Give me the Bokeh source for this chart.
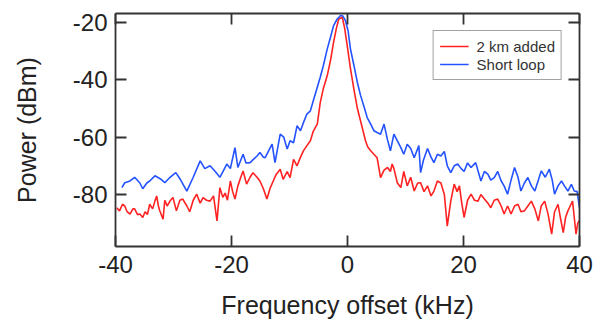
from bokeh.plotting import figure
from bokeh.models import LinearAxis, FixedTicker, Range1d, Legend, LegendItem
from bokeh.embed import file_html
from bokeh.resources import INLINE

# ---- data ----
blue_khz = [-38.9, -38.4, -37.5, -36.7, -35.8, -35.3, -34.6, -34.1, -33.2, -32.3, -31.5, -30.6,
            -29.6, -28.9, -27.7, -26.6, -25.4, -24.6, -23.7, -22.8, -22.0, -20.8, -20.2, -19.4,
            -18.9, -18.0, -17.5, -16.8, -15.6, -15.1, -14.5, -14.2, -13.0, -12.5, -11.6, -11.0,
            -10.4, -9.9, -9.3, -8.7, -8.1, -7.6, -7.0, -6.4, -5.9, -5.4, -4.7, -4.15, -3.5, -2.9,
            -2.4, -1.8, -1.2, -0.8, -0.35, 0.1, 0.5, 1.1, 1.7, 2.25, 2.8, 3.4, 4.0, 4.55, 5.1,
            5.7, 6.3, 6.9, 7.4, 8.0, 8.6, 9.2, 9.7, 10.3, 10.9, 11.5, 12.3, 12.6, 13.1, 13.8,
            14.4, 14.9, 15.5, 16.1, 16.7, 17.2, 17.8, 18.4, 19.0, 19.6, 20.1, 20.7, 21.3, 22.1,
            23.0, 23.6, 24.2, 24.7, 25.3, 25.9, 26.5, 27.0, 27.6, 28.2, 28.8, 29.4, 29.9, 30.5,
            31.1, 31.7, 32.3, 32.9, 33.4, 34.1, 34.8, 35.3, 35.7, 36.3, 36.9, 37.4, 38.0, 38.6,
            39.1, 39.6, 40.0]
blue_dbm = [-77.6, -75.9, -75.3, -74.0, -76.0, -78.0, -76.0, -75.3, -73.5, -74.5, -75.9, -74.0,
            -72.4, -74.5, -78.8, -74.0, -68.3, -71.0, -70.0, -72.0, -74.0, -69.4, -71.0, -63.7,
            -70.6, -66.0, -69.0, -68.9, -66.6, -65.4, -67.0, -67.2, -62.5, -68.9, -59.0, -60.0,
            -64.2, -61.3, -62.0, -56.1, -57.8, -55.0, -52.0, -50.9, -47.4, -44.0, -39.2, -35.0,
            -29.4, -25.0, -21.2, -19.0, -17.7, -17.9, -19.5, -23.0, -29.2, -35.0, -41.0, -45.5,
            -49.1, -53.2, -55.5, -57.8, -58.4, -59.0, -55.5, -61.0, -64.8, -59.0, -61.3, -63.7,
            -66.0, -62.5, -64.0, -67.2, -63.0, -72.4, -68.0, -64.0, -67.0, -68.9, -66.0, -66.6,
            -65.0, -70.0, -72.4, -70.0, -69.4, -71.0, -72.0, -69.0, -70.6, -68.9, -75.3, -72.0,
            -72.9, -75.0, -74.1, -72.0, -75.3, -77.0, -79.9, -75.0, -70.6, -74.0, -78.8, -76.0,
            -74.1, -77.0, -78.8, -75.0, -71.8, -74.0, -71.2, -75.0, -79.9, -77.0, -75.3, -77.0,
            -78.8, -76.5, -78.8, -79.0, -84.6]

red_khz = [-39.8, -39.3, -38.8, -38.4, -38.0, -37.5, -37.0, -36.7, -36.2, -35.8, -35.3, -34.9,
           -34.5, -34.1, -33.6, -33.2, -32.9, -32.6, -32.4, -31.8, -31.5, -31.1, -30.6, -30.1,
           -29.5, -28.9, -28.4, -27.7, -27.2, -26.6, -26.0, -25.4, -24.9, -24.3, -23.7, -23.1,
           -22.5, -22.0, -21.5, -21.1, -20.7, -20.2, -19.8, -19.4, -18.9, -18.4, -18.0, -17.4,
           -16.8, -16.3, -15.6, -15.1, -14.5, -13.9, -13.3, -12.8, -12.3, -11.6, -11.1, -10.4,
           -9.9, -9.3, -8.7, -8.1, -7.6, -7.0, -6.4, -5.9, -5.2, -4.7, -4.15, -3.5, -2.9, -2.4,
           -1.9, -1.5, -0.9, -0.5, -0.05, 0.5, 1.1, 1.7, 2.25, 2.7, 3.1, 3.5, 4.0, 4.55, 5.1,
           5.7, 6.3, 6.9, 7.4, 7.7, 8.0, 8.6, 9.2, 9.7, 10.3, 10.9, 11.5, 12.1, 12.6, 13.2, 13.8,
           14.4, 14.9, 15.5, 16.1, 16.7, 17.2, 17.8, 18.4, 18.9, 19.3, 19.7, 20.1, 20.7, 21.3,
           21.9, 22.5, 23.0, 23.6, 24.2, 24.7, 25.3, 25.9, 26.5, 27.0, 27.6, 28.2, 28.8, 29.4,
           29.9, 30.5, 31.1, 31.7, 32.3, 32.9, 33.4, 34.0, 34.6, 35.2, 35.7, 36.3, 36.7, 37.2,
           37.6, 38.0, 38.4, 38.8, 39.1, 39.4, 39.7, 40.0]
red_dbm = [-84.6, -85.7, -83.4, -84.0, -86.0, -86.8, -85.0, -85.0, -87.0, -86.8, -88.0, -86.0,
           -87.0, -83.4, -85.0, -82.3, -80.5, -84.0, -85.5, -88.6, -82.0, -84.0, -82.3, -81.0,
           -85.7, -82.0, -81.6, -84.0, -86.0, -82.0, -79.9, -83.0, -81.1, -82.0, -82.3, -80.5,
           -89.2, -77.6, -81.0, -79.5, -82.0, -75.3, -79.0, -81.6, -77.0, -74.0, -71.8, -76.4,
           -74.0, -72.4, -74.0, -75.3, -78.0, -81.6, -77.6, -75.3, -73.0, -71.2, -74.7, -72.0,
           -74.1, -67.8, -70.0, -67.0, -64.8, -63.0, -61.3, -58.0, -55.4, -48.0, -43.0, -38.7,
           -33.0, -27.0, -22.0, -18.9, -18.3, -22.0, -28.2, -36.0, -43.3, -50.0, -54.4, -58.0,
           -61.3, -63.5, -64.8, -66.0, -67.2, -74.1, -71.5, -70.6, -72.0, -69.4, -71.0, -76.0,
           -77.6, -72.0, -77.0, -74.0, -78.8, -76.0, -75.9, -79.0, -77.0, -80.5, -78.8, -75.3,
           -76.0, -80.0, -91.0, -82.3, -76.4, -79.0, -77.0, -83.0, -88.0, -82.0, -79.9, -82.0,
           -82.3, -80.0, -81.6, -83.0, -84.6, -82.0, -81.6, -84.0, -86.8, -84.0, -86.8, -84.0,
           -83.4, -86.0, -85.7, -84.0, -82.3, -85.0, -89.2, -84.0, -82.3, -87.0, -93.8, -86.0,
           -83.4, -88.0, -93.3, -88.0, -85.7, -84.0, -82.3, -88.0, -93.8, -90.0, -89.0]

x_ticks = [-40, -20, 0, 20, 40]
y_ticks = [-80, -60, -40, -20]
series_labels = ["2 km added", "Short loop"]

RED = "#ff2222"
BLUE = "#2452ff"
FONT = "Liberation Sans"

p = figure(width=601, height=329, output_backend="svg", toolbar_location=None,
           x_range=Range1d(-40, 40), y_range=Range1d(-98.1, -17.0),
           min_border_left=115, min_border_right=22, min_border_top=13, min_border_bottom=83)
p.xgrid.visible = False
p.ygrid.visible = False
p.outline_line_color = None
p.background_fill_color = "white"
p.border_fill_color = "white"

r_red = p.line(red_khz, red_dbm, line_color=RED, line_width=1.6)
r_blue = p.line(blue_khz, blue_dbm, line_color=BLUE, line_width=1.6)


def style(ax, ticks, labels=True):
    ax.ticker = FixedTicker(ticks=ticks)
    ax.axis_line_color = "#333333"
    ax.axis_line_width = 1.8
    ax.major_tick_line_color = "#333333"
    ax.major_tick_line_width = 1.8
    ax.major_tick_in = 11
    ax.major_tick_out = 0
    ax.minor_tick_line_color = None
    ax.major_label_text_font = FONT
    ax.major_label_text_font_size = "24px"
    ax.major_label_text_color = "#222222"
    if labels:
        ax.major_label_overrides = {t: str(t) for t in ticks}
    else:
        ax.major_label_overrides = {t: "" for t in ticks}
    ax.axis_label_text_font = FONT
    ax.axis_label_text_font_size = "25px"
    ax.axis_label_text_font_style = "normal"
    ax.axis_label_text_color = "#222222"


xa = p.xaxis[0]
ya = p.yaxis[0]
style(xa, x_ticks)
style(ya, y_ticks)
xa.axis_label = "Frequency offset (kHz)"
ya.axis_label = "Power (dBm)"
xa.major_label_standoff = 9
ya.major_label_standoff = 8
xa.axis_label_standoff = 15
ya.axis_label_standoff = 29

top = LinearAxis()
style(top, x_ticks, labels=False)
p.add_layout(top, "above")
right = LinearAxis()
style(right, y_ticks, labels=False)
p.add_layout(right, "right")

legend = Legend(items=[LegendItem(label=series_labels[0], renderers=[r_red]),
                       LegendItem(label=series_labels[1], renderers=[r_blue])],
                location="top_right")
legend.margin = 17
legend.padding = 6
legend.spacing = 0
legend.glyph_width = 29
legend.glyph_height = 18
legend.label_height = 18
legend.label_standoff = 8
legend.label_text_font = FONT
legend.label_text_font_size = "15px"
legend.label_text_color = "#333333"
legend.border_line_color = "#444444"
legend.border_line_width = 1.5
legend.background_fill_alpha = 1.0
p.add_layout(legend, "center")

open("out.html", "w").write(file_html(p, INLINE))
